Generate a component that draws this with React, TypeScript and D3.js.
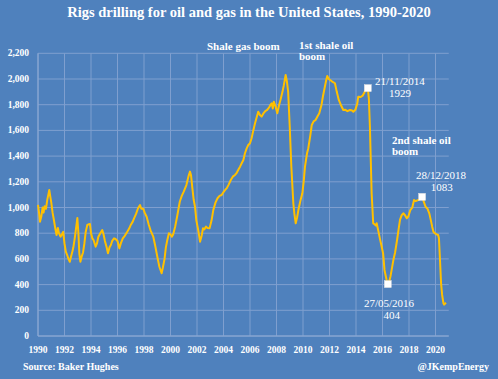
import React from "react";
import * as d3 from "d3";

const dates: number[] = [
  1990.0, 1990.08, 1990.15, 1990.25, 1990.35, 1990.42, 1990.5, 1990.6, 1990.7, 1990.8, 1990.85, 1990.92,
  1991.0, 1991.1, 1991.2, 1991.3, 1991.4, 1991.5, 1991.58, 1991.7, 1991.8, 1991.9,
  1992.0, 1992.1, 1992.2, 1992.3, 1992.4, 1992.5, 1992.6, 1992.67, 1992.8, 1992.9, 1992.97,
  1993.05, 1993.12, 1993.2, 1993.3, 1993.4, 1993.5, 1993.6, 1993.72, 1993.85, 1993.92,
  1994.0, 1994.1, 1994.2, 1994.35, 1994.45, 1994.55, 1994.7, 1994.85, 1994.95,
  1995.05, 1995.18, 1995.28, 1995.4, 1995.5, 1995.6, 1995.74, 1995.85,
  1996.0, 1996.14, 1996.25, 1996.4, 1996.55, 1996.74, 1996.9,
  1997.0, 1997.15, 1997.25, 1997.4, 1997.55, 1997.7, 1997.8, 1997.95,
  1998.05, 1998.2, 1998.35, 1998.5, 1998.7, 1998.85,
  1999.0, 1999.16, 1999.33, 1999.42, 1999.55, 1999.65, 1999.76, 1999.88,
  2000.0, 2000.1, 2000.2, 2000.35, 2000.5, 2000.7, 2000.85,
  2001.0, 2001.2, 2001.35, 2001.47, 2001.55, 2001.65, 2001.75, 2001.85, 2001.95,
  2002.1, 2002.23, 2002.35, 2002.45, 2002.55, 2002.68, 2002.8, 2002.95,
  2003.1, 2003.23, 2003.4, 2003.55, 2003.7, 2003.86,
  2004.0, 2004.15, 2004.24, 2004.4, 2004.55, 2004.7, 2004.87,
  2005.0, 2005.15, 2005.25, 2005.4, 2005.5, 2005.62, 2005.75, 2005.87,
  2006.0, 2006.12, 2006.25, 2006.38, 2006.5, 2006.62, 2006.75, 2006.88,
  2007.0, 2007.15, 2007.3, 2007.45, 2007.55, 2007.64, 2007.72, 2007.8, 2007.92,
  2008.06, 2008.2, 2008.3, 2008.45, 2008.55, 2008.69, 2008.78, 2008.88,
  2009.0, 2009.12, 2009.27, 2009.35, 2009.45, 2009.55, 2009.65, 2009.8, 2009.95,
  2010.05, 2010.15, 2010.3, 2010.4, 2010.55, 2010.66, 2010.8, 2010.95,
  2011.1, 2011.23, 2011.4, 2011.5, 2011.65, 2011.75, 2011.83, 2011.95,
  2012.05, 2012.2, 2012.41, 2012.55, 2012.7, 2012.85,
  2013.04, 2013.2, 2013.35, 2013.55, 2013.7, 2013.8, 2013.95,
  2014.1, 2014.17, 2014.35, 2014.5, 2014.6, 2014.8, 2014.89, 2014.97,
  2015.05, 2015.12, 2015.18, 2015.3, 2015.4, 2015.5, 2015.56, 2015.68, 2015.8, 2015.94,
  2016.05, 2016.15, 2016.3, 2016.4, 2016.5, 2016.6, 2016.82, 2016.95,
  2017.1, 2017.2, 2017.32, 2017.45, 2017.57, 2017.7, 2017.83, 2017.95,
  2018.1, 2018.25, 2018.38, 2018.5, 2018.7, 2018.85, 2018.99,
  2019.1, 2019.25, 2019.4, 2019.53, 2019.65, 2019.75, 2019.85, 2019.96,
  2020.1, 2020.2, 2020.26, 2020.34, 2020.42, 2020.5, 2020.6, 2020.65, 2020.79,
];

const rigs: number[] = [
  1020, 960, 890, 930, 1000, 960, 1010, 990, 1060, 1110, 1136, 1090,
  1040, 960, 903, 840, 786, 840, 800, 773, 790, 810,
  720, 656, 630, 600, 578, 620, 660, 690, 780, 860, 918,
  800, 640, 578, 620, 650, 720, 810, 864, 870, 872,
  800, 760, 745, 695, 720, 770, 800, 825, 790,
  740, 690, 644, 690, 708, 740, 760, 755,
  740, 682, 720, 760, 780, 812, 840,
  864, 890, 916, 950, 994, 1019, 990, 990,
  960, 928, 870, 820, 773, 700,
  620, 539, 488, 530, 600, 690, 747, 800,
  790, 773, 790, 850, 930, 1045, 1090,
  1123, 1175, 1240, 1279, 1250, 1150, 1060, 1006, 900,
  820, 734, 780, 838, 830, 851, 840, 838,
  900, 980, 1040, 1072, 1090, 1097,
  1120, 1140, 1149, 1180, 1214, 1240, 1253,
  1270, 1300, 1318, 1350, 1370, 1422, 1460, 1486,
  1500, 1539, 1600, 1655, 1700, 1745, 1720, 1707,
  1730, 1750, 1759, 1780, 1800, 1811, 1770, 1823, 1790,
  1733, 1800, 1837, 1900, 1950, 2031, 1985, 1900,
  1629, 1318, 1033, 950, 877, 920, 980, 1050, 1110,
  1200, 1318, 1420, 1461, 1560, 1642, 1670, 1681,
  1710, 1733, 1800, 1862, 1940, 1990, 2023, 2000,
  1992, 1980, 1967, 1900, 1837, 1800,
  1759, 1760, 1750, 1759, 1755, 1745, 1760,
  1810, 1862, 1860, 1870, 1889, 1928, 1929, 1850,
  1629, 1350, 1110, 877, 870, 860, 877, 820, 760, 695,
  640, 514, 440, 404, 420, 462, 591, 650,
  747, 820, 903, 940, 955, 940, 916, 930,
  980, 1000, 1058, 1050, 1058, 1065, 1083,
  1050, 1006, 990, 955, 900, 851, 810, 799,
  790, 786, 760, 591, 410, 320, 254, 244, 259,
];

const yTicks: number[] = [0, 200, 400, 600, 800, 1000, 1200, 1400, 1600, 1800, 2000, 2200];
const xTicks: number[] = [1990, 1992, 1994, 1996, 1998, 2000, 2002, 2004, 2006, 2008, 2010, 2012, 2014, 2016, 2018, 2020];

const markerDates: number[] = [2014.89, 2016.4, 2018.99];
const markerValues: number[] = [1929, 404, 1083];

const W = 498;
const H = 379;
const BG = "#4f81bd";
const GRID = "#7f9fcf";
const LINE = "#ffc000";
const FONT = "'Liberation Serif', 'Times New Roman', serif";

export default function App() {
  const x = d3.scaleLinear().domain([1990, 2021]).range([38, 448.75]);
  const y = d3.scaleLinear().domain([0, 2200]).range([336, 53.3]);
  const pts: [number, number][] = dates.map((d, i) => [d, rigs[i]]);
  const line = d3
    .line<[number, number]>()
    .x((d) => x(d[0]))
    .y((d) => y(d[1]))
    .curve(d3.curveLinear);
  const fmt = d3.format(",");

  return (
    <svg
      width={W}
      height={H}
      style={{ position: "fixed", left: 0, top: 0, display: "block" }}
      fontFamily={FONT}
    >
      <rect x={0} y={0} width={W} height={H} fill={BG} />
      <text x={249} y={17} textAnchor="middle" fill="#fff" fontWeight="bold" fontSize={14.5}>
        Rigs drilling for oil and gas in the United States, 1990-2020
      </text>
      {yTicks.map((t) => (
        <g key={"y" + t}>
          <line x1={x(1990)} x2={x(2021)} y1={y(t)} y2={y(t)} stroke={GRID} strokeWidth={1} />
          <text x={29} y={y(t) + 3} textAnchor="end" fill="#fff" fontWeight="bold" fontSize={9.5}>
            {fmt(t)}
          </text>
        </g>
      ))}
      {xTicks.map((t) => (
        <g key={"x" + t}>
          <line x1={x(t)} x2={x(t)} y1={y(2200)} y2={y(0)} stroke={GRID} strokeWidth={1} />
          <text x={x(t)} y={352.5} textAnchor="middle" fill="#fff" fontWeight="bold" fontSize={9.5}>
            {t}
          </text>
        </g>
      ))}
      <line x1={x(1990)} x2={x(1990)} y1={y(2200)} y2={y(0)} stroke="#8da9d3" strokeWidth={1} />
      <line x1={x(1990)} x2={x(2021)} y1={y(0)} y2={y(0)} stroke="#8da9d3" strokeWidth={1} />
      <path d={line(pts) || ""} fill="none" stroke={LINE} strokeWidth={2} strokeLinejoin="round" />
      {markerDates.map((d, i) => (
        <rect
          key={"m" + i}
          x={x(d) - 3.5}
          y={y(markerValues[i]) - 3.5}
          width={7}
          height={7}
          fill="#fff"
          stroke="#ddd"
          strokeWidth={0.5}
        />
      ))}
      <g fill="#fff" fontSize={11}>
        <text x={207} y={49.5} fontWeight="bold">Shale gas boom</text>
        <text x={299} y={48.5} fontWeight="bold">1st shale oil</text>
        <text x={299} y={60} fontWeight="bold">boom</text>
        <text x={375} y={85}>21/11/2014</text>
        <text x={400} y={97} textAnchor="middle">1929</text>
        <text x={392} y={143.5} fontWeight="bold">2nd shale oil</text>
        <text x={392} y={155} fontWeight="bold">boom</text>
        <text x={416} y={179}>28/12/2018</text>
        <text x={441.7} y={191} textAnchor="middle">1083</text>
        <text x={364} y={307}>27/05/2016</text>
        <text x={391.7} y={318.5} textAnchor="middle">404</text>
      </g>
      <text x={23} y={370} fill="#fff" fontWeight="bold" fontSize={10}>
        Source: Baker Hughes
      </text>
      <text x={489} y={370} textAnchor="end" fill="#fff" fontWeight="bold" fontSize={10}>
        @JKempEnergy
      </text>
    </svg>
  );
}
